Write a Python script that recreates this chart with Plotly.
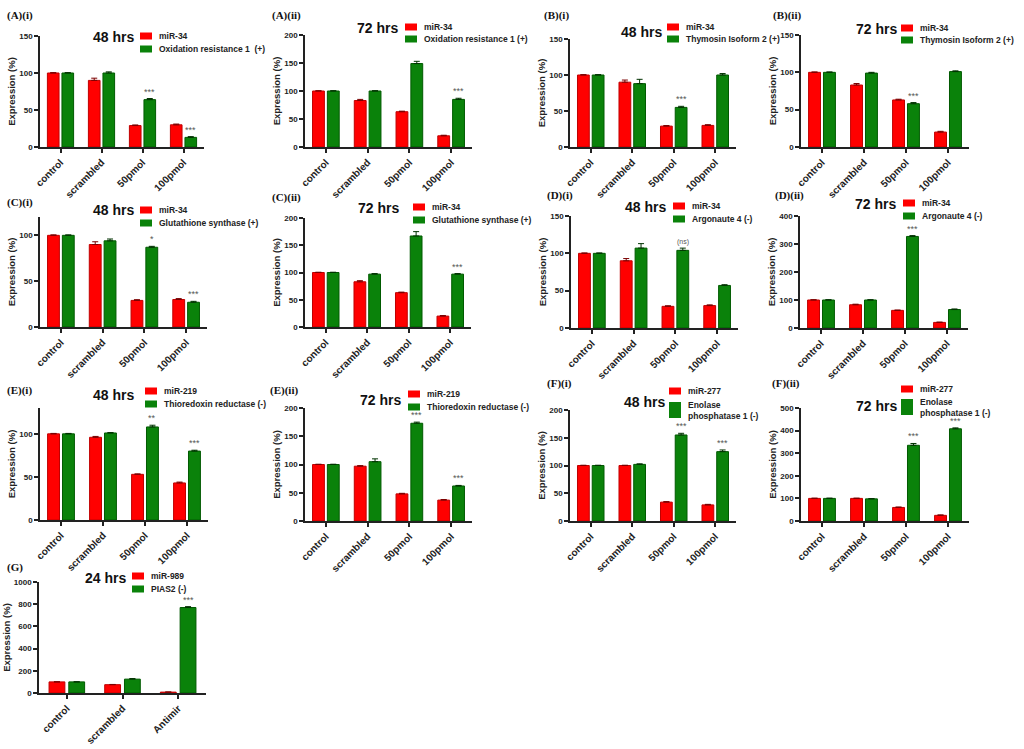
import plotly.graph_objects as go

W, H = 1024, 749

CATEGORIES = ["control", "scrambled", "50pmol", "100pmol"]
CATEGORIES_G = ["control", "scrambled", "Antimir"]

# (A)(i) 48 hrs, miR-34 vs Oxidation resistance 1
A1_MIR = [100, 90, 29, 30]
A1_MIR_ERR = [0.5, 3, 0.8, 1]
A1_GENE = [100, 100, 64, 13]
A1_GENE_ERR = [0.5, 1.5, 1.5, 1]
A1_STARS = ["", "", "***", "***"]

# (A)(ii) 72 hrs
A2_MIR = [100, 83, 63, 20]
A2_MIR_ERR = [0.5, 2, 1, 1]
A2_GENE = [100, 100, 149, 85]
A2_GENE_ERR = [0.5, 0.5, 4, 2]
A2_STARS = ["", "", "", "***"]

# (B)(i) 48 hrs, miR-34 vs Thymosin Isoform 2
B1_MIR = [100, 90, 29, 30]
B1_MIR_ERR = [0.5, 3, 0.8, 1]
B1_GENE = [100, 88, 55, 100]
B1_GENE_ERR = [0.5, 6, 1.5, 2]
B1_STARS = ["", "", "***", ""]

# (B)(ii) 72 hrs
B2_MIR = [100, 83, 63, 20]
B2_MIR_ERR = [0.5, 2, 1, 1]
B2_GENE = [100, 99, 58, 101]
B2_GENE_ERR = [0.5, 1, 1.5, 1]
B2_STARS = ["", "", "***", ""]

# (C)(i) 48 hrs, miR-34 vs Glutathione synthase
C1_MIR = [100, 90, 29, 30]
C1_MIR_ERR = [0.5, 3, 0.8, 1]
C1_GENE = [100, 94, 87, 27]
C1_GENE_ERR = [0.5, 2, 1, 1]
C1_STARS = ["", "", "*", "***"]

# (C)(ii) 72 hrs
C2_MIR = [100, 83, 63, 20]
C2_MIR_ERR = [0.5, 2, 1, 1]
C2_GENE = [100, 97, 167, 97]
C2_GENE_ERR = [0.5, 1, 8, 1]
C2_STARS = ["", "", "", "***"]

# (D)(i) 48 hrs, miR-34 vs Argonaute 4
D1_MIR = [100, 90, 29, 30]
D1_MIR_ERR = [0.5, 3, 0.8, 1]
D1_GENE = [100, 107, 104, 57]
D1_GENE_ERR = [0.5, 6, 3, 1]
D1_STARS = ["", "", "(ns)", ""]

# (D)(ii) 72 hrs
D2_MIR = [100, 83, 63, 20]
D2_MIR_ERR = [1, 2, 1, 1]
D2_GENE = [100, 100, 327, 66]
D2_GENE_ERR = [1, 1, 3, 2]
D2_STARS = ["", "", "***", ""]

# (E)(i) 48 hrs, miR-219 vs Thioredoxin reductase
E1_MIR = [100, 96, 53, 43]
E1_MIR_ERR = [0.5, 1, 0.5, 1]
E1_GENE = [100, 101, 108, 80]
E1_GENE_ERR = [0.5, 0.5, 2, 1]
E1_STARS = ["", "", "**", "***"]

# (E)(ii) 72 hrs
E2_MIR = [100, 97, 48, 37]
E2_MIR_ERR = [0.5, 1, 1, 1]
E2_GENE = [100, 105, 173, 62]
E2_GENE_ERR = [0.5, 5, 2, 1]
E2_STARS = ["", "", "***", "***"]

# (F)(i) 48 hrs, miR-277 vs Enolase phosphatase 1
F1_MIR = [100, 100, 34, 29]
F1_MIR_ERR = [0.5, 0.5, 1, 1]
F1_GENE = [100, 102, 155, 125]
F1_GENE_ERR = [0.5, 1, 3, 3]
F1_STARS = ["", "", "***", "***"]

# (F)(ii) 72 hrs
F2_MIR = [100, 100, 60, 25]
F2_MIR_ERR = [1, 1, 2, 2]
F2_GENE = [100, 98, 335, 408]
F2_GENE_ERR = [1, 1, 8, 4]
F2_STARS = ["", "", "***", "***"]

# (G) 24 hrs, miR-989 vs PIAS2
G_MIR = [100, 75, 8]
G_MIR_ERR = [1, 2, 1]
G_GENE = [100, 125, 770]
G_GENE_ERR = [1, 5, 8]
G_STARS = ["", "", "***"]

RED = "#ff0000"
GREEN = "#0a820a"
FONT = "Liberation Sans, Arial, sans-serif"
SERIF = "Liberation Serif, Times New Roman, serif"

# box = axes (x0, x1, ytop, ybottom) in px; lab / ttl = label and title centre;
# leg = (swatch left, first row centre, second row offset)
PANELS = [
    dict(label="(A)(i)", hours="48 hrs", mir="miR-34", gene="Oxidation resistance 1  (+)",
         cats=CATEGORIES, m=A1_MIR, me=A1_MIR_ERR, g=A1_GENE, ge=A1_GENE_ERR, stars=A1_STARS,
         ymax=150, dtick=50, box=(40, 204, 36, 147), lab=(5, 15), ttl=(113, 37), leg=(140, 36, 13)),
    dict(label="(A)(ii)", hours="72 hrs", mir="miR-34", gene="Oxidation resistance 1 (+)",
         cats=CATEGORIES, m=A2_MIR, me=A2_MIR_ERR, g=A2_GENE, ge=A2_GENE_ERR, stars=A2_STARS,
         ymax=200, dtick=50, box=(305, 472, 35, 147), lab=(270, 15), ttl=(377, 28), leg=(405, 27, 12)),
    dict(label="(B)(i)", hours="48 hrs", mir="miR-34", gene="Thymosin Isoform 2 (+)",
         cats=CATEGORIES, m=B1_MIR, me=B1_MIR_ERR, g=B1_GENE, ge=B1_GENE_ERR, stars=B1_STARS,
         ymax=150, dtick=50, box=(570, 736, 39, 147), lab=(542, 15), ttl=(641, 32), leg=(667, 27, 12)),
    dict(label="(B)(ii)", hours="72 hrs", mir="miR-34", gene="Thymosin Isoform 2 (+)",
         cats=CATEGORIES, m=B2_MIR, me=B2_MIR_ERR, g=B2_GENE, ge=B2_GENE_ERR, stars=B2_STARS,
         ymax=150, dtick=50, box=(801, 969, 35, 147), lab=(771, 15), ttl=(876, 29), leg=(901, 28, 12)),
    dict(label="(C)(i)", hours="48 hrs", mir="miR-34", gene="Glutathione synthase (+)",
         cats=CATEGORIES, m=C1_MIR, me=C1_MIR_ERR, g=C1_GENE, ge=C1_GENE_ERR, stars=C1_STARS,
         ymax=120, dtick=50, box=(40, 207, 217, 327), lab=(5, 203), ttl=(113, 210), leg=(140, 210, 13)),
    dict(label="(C)(ii)", hours="72 hrs", mir="miR-34", gene="Glutathione synthase (+)",
         cats=CATEGORIES, m=C2_MIR, me=C2_MIR_ERR, g=C2_GENE, ge=C2_GENE_ERR, stars=C2_STARS,
         ymax=200, dtick=50, box=(305, 471, 218, 327), lab=(270, 197), ttl=(378, 208), leg=(413, 207, 13)),
    dict(label="(D)(i)", hours="48 hrs", mir="miR-34", gene="Argonaute 4 (-)",
         cats=CATEGORIES, m=D1_MIR, me=D1_MIR_ERR, g=D1_GENE, ge=D1_GENE_ERR, stars=D1_STARS,
         ymax=150, dtick=50, box=(571, 738, 216, 328), lab=(545, 195), ttl=(645, 207), leg=(673, 206, 13)),
    dict(label="(D)(ii)", hours="72 hrs", mir="miR-34", gene="Argonaute 4 (-)",
         cats=CATEGORIES, m=D2_MIR, me=D2_MIR_ERR, g=D2_GENE, ge=D2_GENE_ERR, stars=D2_STARS,
         ymax=400, dtick=100, box=(800, 968, 216, 328), lab=(773, 195), ttl=(875, 204), leg=(903, 203, 13)),
    dict(label="(E)(i)", hours="48 hrs", mir="miR-219", gene="Thioredoxin reductase (-)",
         cats=CATEGORIES, m=E1_MIR, me=E1_MIR_ERR, g=E1_GENE, ge=E1_GENE_ERR, stars=E1_STARS,
         ymax=130, dtick=50, box=(40, 208, 408, 520), lab=(5, 390), ttl=(113, 395), leg=(145, 391, 13)),
    dict(label="(E)(ii)", hours="72 hrs", mir="miR-219", gene="Thioredoxin reductase (-)",
         cats=CATEGORIES, m=E2_MIR, me=E2_MIR_ERR, g=E2_GENE, ge=E2_GENE_ERR, stars=E2_STARS,
         ymax=200, dtick=50, box=(305, 472, 408, 521), lab=(268, 390), ttl=(380, 400), leg=(408, 394, 13)),
    dict(label="(F)(i)", hours="48 hrs", mir="miR-277", gene="Enolase<br>phosphatase 1 (-)",
         cats=CATEGORIES, m=F1_MIR, me=F1_MIR_ERR, g=F1_GENE, ge=F1_GENE_ERR, stars=F1_STARS,
         ymax=200, dtick=50, box=(570, 736, 410, 521), lab=(545, 383), ttl=(644, 402), leg=(669, 391, 19)),
    dict(label="(F)(ii)", hours="72 hrs", mir="miR-277", gene="Enolase<br>phosphatase 1 (-)",
         cats=CATEGORIES, m=F2_MIR, me=F2_MIR_ERR, g=F2_GENE, ge=F2_GENE_ERR, stars=F2_STARS,
         ymax=500, dtick=100, box=(801, 969, 408, 521), lab=(770, 383), ttl=(876, 406), leg=(901, 389, 18)),
    dict(label="(G)", hours="24 hrs", mir="miR-989", gene="PIAS2 (-)",
         cats=CATEGORIES_G, m=G_MIR, me=G_MIR_ERR, g=G_GENE, ge=G_GENE_ERR, stars=G_STARS,
         ymax=1000, dtick=200, box=(39, 206, 582, 693), lab=(5, 567), ttl=(105, 578), leg=(132, 576, 13)),
]

BARGAP = 0.29
GROUPGAP = 0.2
GREEN_OFFSET = (1 - BARGAP) / 4  # centre of the second bar of a group


def px_x(v):
    return v / W


def px_y(v):
    return 1 - v / H


fig = go.Figure()
annotations = []
shapes = []
layout = {}

for i, p in enumerate(PANELS):
    n = "" if i == 0 else str(i + 1)
    xa, ya = f"x{n}", f"y{n}"

    fig.add_trace(go.Bar(
        x=p["cats"], y=p["m"], name=p["mir"], xaxis=xa, yaxis=ya, showlegend=False,
        marker=dict(color=RED, line=dict(color="#c00000", width=1)),
        error_y=dict(type="data", array=p["me"], arrayminus=[0] * len(p["me"]),
                     symmetric=False, color="#7a0000", thickness=1, width=3)
    ))
    fig.add_trace(go.Bar(
        x=p["cats"], y=p["g"], name=p["gene"], xaxis=xa, yaxis=ya, showlegend=False,
        marker=dict(color=GREEN, line=dict(color="#005a00", width=1)),
        error_y=dict(type="data", array=p["ge"], arrayminus=[0] * len(p["ge"]),
                     symmetric=False, color="#003300", thickness=1, width=3)
    ))

    x0, x1, yt, yb = p["box"]
    layout[f"xaxis{n}"] = dict(
        domain=[px_x(x0), px_x(x1)], anchor=ya, type="category",
        range=[-0.5, len(p["cats"]) - 0.5],
        showline=True, linecolor="#222", linewidth=1.5,
        ticks="outside", ticklen=4, tickcolor="#222", tickwidth=1.5,
        tickangle=-45, tickfont=dict(family=FONT, size=10, color="#222", weight="bold"),
        showgrid=False, zeroline=False, fixedrange=True, automargin=False,
    )
    layout[f"yaxis{n}"] = dict(
        domain=[px_y(yb), px_y(yt)], anchor=xa,
        range=[0, p["ymax"]], dtick=p["dtick"], tick0=0,
        showline=True, linecolor="#222", linewidth=1.5,
        ticks="outside", ticklen=4, tickcolor="#222", tickwidth=1.5,
        tickfont=dict(family=FONT, size=8, color="#222", weight="bold"),
        title=dict(text="Expression (%)", standoff=2,
                   font=dict(family=FONT, size=9.5, color="#222", weight="bold")),
        showgrid=False, zeroline=False, fixedrange=True, automargin=False,
    )

    # panel label and time title
    annotations.append(dict(
        x=px_x(p["lab"][0]), y=px_y(p["lab"][1]), xref="paper", yref="paper",
        xanchor="left", yanchor="middle", showarrow=False, text=p["label"],
        font=dict(family=SERIF, size=11, color="#111", weight="bold"),
    ))
    annotations.append(dict(
        x=px_x(p["ttl"][0]), y=px_y(p["ttl"][1]), xref="paper", yref="paper",
        xanchor="center", yanchor="middle", showarrow=False, text=p["hours"],
        font=dict(family=FONT, size=14, color="#111", weight="bold"),
    ))

    # compact key: swatch + name for each series
    sx, r1, dr = p["leg"]
    two_line = "<br>" in p["gene"]
    for name, color, cy, hh in [(p["mir"], RED, r1, 3.5),
                                (p["gene"], GREEN, r1 + dr, 8 if two_line else 3.5)]:
        shapes.append(dict(
            type="rect", xref="paper", yref="paper",
            x0=px_x(sx), x1=px_x(sx + 12), y0=px_y(cy + hh), y1=px_y(cy - hh),
            fillcolor=color, line=dict(width=0),
        ))
        annotations.append(dict(
            x=px_x(sx + 17), y=px_y(cy), xref="paper", yref="paper",
            xanchor="left", yanchor="middle", align="left", showarrow=False, text=name,
            font=dict(family=FONT, size=8.5, color="#222", weight="bold"),
        ))

    for j, s in enumerate(p["stars"]):
        if not s:
            continue
        ns = s == "(ns)"
        annotations.append(dict(
            x=j + GREEN_OFFSET, y=p["g"][j] + p["ge"][j], xref=xa, yref=ya,
            xanchor="center", yanchor="bottom", yshift=0, showarrow=False, text=s,
            font=dict(family=FONT, size=7 if ns else 9, color="#555"),
        ))

fig.update_layout(
    width=W, height=H, margin=dict(l=0, r=0, t=0, b=0, autoexpand=False),
    paper_bgcolor="white", plot_bgcolor="white",
    barmode="group", bargap=BARGAP, bargroupgap=GROUPGAP,
    showlegend=False, annotations=annotations, shapes=shapes,
    font=dict(family=FONT, color="#222"),
    **layout,
)

# drop the page's default body margin so the figure sits at the window origin
fig.write_html(
    "out.html",
    config={"displayModeBar": False},
    post_script="document.body.style.margin='0';document.body.style.overflow='hidden';",
)
